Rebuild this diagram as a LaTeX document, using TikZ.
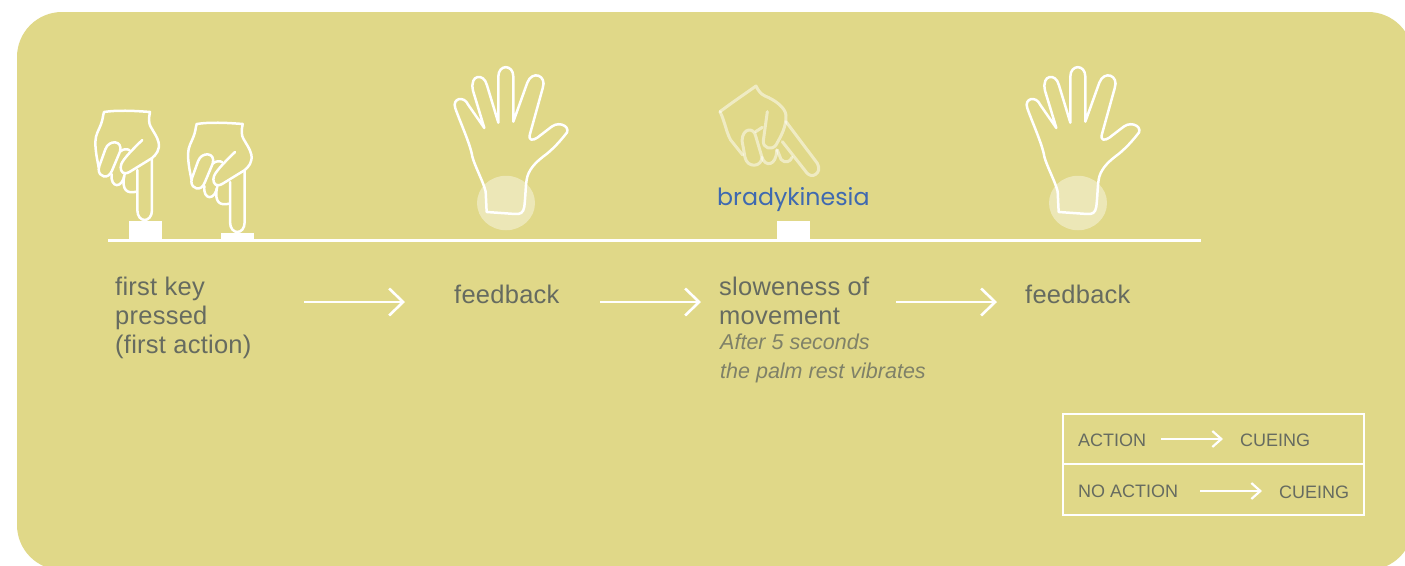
\documentclass[tikz,border=0pt]{standalone}
\usepackage{fontspec}
\setmainfont{Liberation Sans}
\newfontfamily\brady{Poppins}
\newfontfamily\labf[LetterSpace=1]{Liberation Sans}
\usetikzlibrary{arrows.meta,shapes.geometric}
\definecolor{bgy}{HTML}{E0D888}
\definecolor{txt}{HTML}{666B60}
\definecolor{itx}{HTML}{7F8168}
\definecolor{bl}{HTML}{3F69B0}
\tikzset{
 lab/.style={anchor=base west,inner sep=0pt,text=txt,font=\labf\fontsize{25.5}{25.5}\selectfont},
 ilab/.style={anchor=base west,inner sep=0pt,text=itx,font=\fontsize{21.5}{21.5}\selectfont\itshape},
 leg/.style={anchor=base west,inner sep=0pt,text=txt,font=\fontsize{18}{18}\selectfont},
 flow/.style={draw=white,line width=2.6pt,-{Straight Barb[length=14pt,width=27pt,line width=2.6pt]}},
 legflow/.style={draw=white,line width=2.2pt,-{Straight Barb[length=9pt,width=16pt,line width=2.2pt]}},
 handline/.style={draw=white,line width=2.5pt,line cap=round,line join=round},
 handpale/.style={draw=white,draw opacity=.5,line width=3pt,line cap=round,line join=round},
 keycap/.style={fill=white,draw=none},
 palm/.style={fill=white,fill opacity=.4,draw=none,ellipse,minimum width=58pt,minimum height=54.5pt,inner sep=0pt},
}
\newcommand{\pointhand}{
 \draw[handline] (56,322) -- (50,290) .. controls (44,250) and (45,235) .. (52,218) .. controls (60,200) and (65,190) .. (68,175) .. controls (69,168) and (70,162) .. (72,156) .. controls (110,150) and (160,152) .. (210,156) .. controls (206,175) and (206,190) .. (212,200) .. controls (220,215) and (232,230) .. (236,248) .. controls (240,270) and (228,285) .. (215,295) -- (150,335) .. controls (130,347) and (122,335) .. (122,322) .. controls (122,310) and (130,295) .. (187,240);
 \draw[handline] (58,318) -- (76,268) .. controls (86,238) and (130,240) .. (120,275) -- (96,332) .. controls (85,360) and (56,352) .. (56,328) -- (58,318);
 \draw[handline] (120,275) .. controls (130,266) and (142,266) .. (149,271);
 \draw[handline] (95,342) .. controls (90,385) and (128,388) .. (134,342);
 \draw[handline] (132,350) .. controls (126,390) and (140,402) .. (170,395);
 \draw[handline] (172,330) -- (172,450) .. controls (172,490) and (216,490) .. (216,450) -- (216,295);
}
\newcommand{\openhand}{
 \draw[handline] (133,204) -- (99,92) .. controls (88,42) and (132,38) .. (141,76) -- (175,188) -- (175,50) .. controls (175,12) and (220,12) .. (220,50) -- (220,185) -- (262,68) .. controls (276,30) and (322,45) .. (308,85) -- (270,222) .. controls (264,242) and (278,243) .. (292,233) -- (335,200) .. controls (362,180) and (398,205) .. (375,225) .. controls (355,250) and (340,265) .. (320,282) .. controls (295,300) and (270,322) .. (262,350) .. controls (256,375) and (258,395) .. (253,440) .. controls (250,460) and (240,463) .. (225,462) -- (140,456) -- (137,395) .. controls (130,365) and (105,320) .. (97,290) .. controls (92,255) and (60,185) .. (46,145) .. controls (35,115) and (72,105) .. (85,135) -- (133,204);
}
\begin{document}
\begin{tikzpicture}[x=1pt,y=-1pt]
\useasboundingbox (0,0) rectangle (1405,565);
\fill[white] (0,0) rectangle (1405,565);
\begin{scope}
\clip (0,0) rectangle (1405,565);
\fill[bgy,rounded corners=45pt] (17,12) rectangle (1413,570);
\end{scope}
% palm circles
\node[palm] (c1) at (506,203) {};
\node[palm] (c2) at (1078,203) {};
% hands
\begin{scope}[shift={(80,60)},x=.3333pt,y=-.3333pt]\pointhand\end{scope}
\begin{scope}[shift={(172.7,72)},x=.3333pt,y=-.3333pt]\pointhand\end{scope}
\begin{scope}[shift={(440,60)},x=.3333pt,y=-.3333pt]\openhand\end{scope}
\begin{scope}[shift={(1012,60)},x=.3333pt,y=-.3333pt]\openhand\end{scope}
\begin{scope}[shift={(700,70)},x=.3333pt,y=-.3333pt]
 \draw[handpale] (60,125) .. controls (100,95) and (140,68) .. (168,48) .. controls (175,62) and (182,72) .. (195,78) .. controls (225,90) and (255,112) .. (258,135) .. controls (260,170) and (242,200) .. (228,225) .. controls (215,242) and (188,235) .. (190,212) -- (202,125);
 \draw[handpale] (60,125) .. controls (75,155) and (78,185) .. (92,210) -- (128,255);
 \draw[handpale] (126,212) .. controls (128,172) and (162,172) .. (167,198) -- (186,262) .. controls (185,292) and (142,295) .. (135,262) -- (126,212);
 \draw[handpale] (167,185) -- (187,172);
 \draw[handpale] (186,262) .. controls (195,292) and (230,288) .. (230,240);
 \draw[handpale] (232,240) -- (243,268) .. controls (255,282) and (272,275) .. (276,262);
 \draw[handpale] (258,155) -- (352,280) .. controls (368,310) and (335,328) .. (320,308) -- (247,215);
\end{scope}
% keys and base
\node[keycap,minimum width=33pt,minimum height=19pt,inner sep=0pt] (k1) at (145.5,230.5) {};
\node[keycap,minimum width=33pt,minimum height=7pt,inner sep=0pt] (k2) at (237.5,236.5) {};
\node[keycap,minimum width=33pt,minimum height=19pt,inner sep=0pt] (k3) at (793.5,230.5) {};
\coordinate (bl) at (108,240.5);
\coordinate (br) at (1201,240.5);
\draw[white,line width=3pt] (bl) -- (br);
\node[anchor=base west,inner sep=0pt,text=bl,font=\brady\fontsize{23.7}{23.7}\selectfont] (bk) at (717,205) {bradykinesia};
% labels
\node[lab] (t1a) at (115,295) {first key};
\node[lab] (t1b) at (115,324) {pressed};
\node[lab] (t1c) at (115,353) {(first action)};
\node[lab] (t2) at (454,303) {feedback};
\node[lab] (t3a) at (719,295) {sloweness of};
\node[lab] (t3b) at (719,324) {movement};
\node[ilab] (t3c) at (720,349) {After 5 seconds};
\node[ilab] (t3d) at (720,378) {the palm rest vibrates};
\node[lab] (t4) at (1025,303) {feedback};
% arrows
\coordinate (a1s) at (304,302); \coordinate (a1e) at (405,302);
\coordinate (a2s) at (600,302); \coordinate (a2e) at (701,302);
\coordinate (a3s) at (896,302); \coordinate (a3e) at (997,302);
\draw[flow] (a1s) -- (a1e);
\draw[flow] (a2s) -- (a2e);
\draw[flow] (a3s) -- (a3e);
% legend
\node[draw=white,line width=2.4pt,minimum width=301pt,minimum height=50pt,inner sep=0pt] (l1) at (1213.5,439) {};
\node[draw=white,line width=2.4pt,minimum width=301pt,minimum height=51pt,inner sep=0pt] (l2) at (1213.5,489.5) {};
\node[leg] (la) at (1078,446) {ACTION};
\node[leg] (lb) at (1240,446) {CUEING};
\node[leg] (lc) at (1078,497) {NO ACTION};
\node[leg] (ld) at (1279,498) {CUEING};
\coordinate (b1s) at (1161,439); \coordinate (b1e) at (1223,439);
\coordinate (b2s) at (1200,491); \coordinate (b2e) at (1262,491);
\draw[legflow] (b1s) -- (b1e);
\draw[legflow] (b2s) -- (b2e);
\end{tikzpicture}
\end{document}
